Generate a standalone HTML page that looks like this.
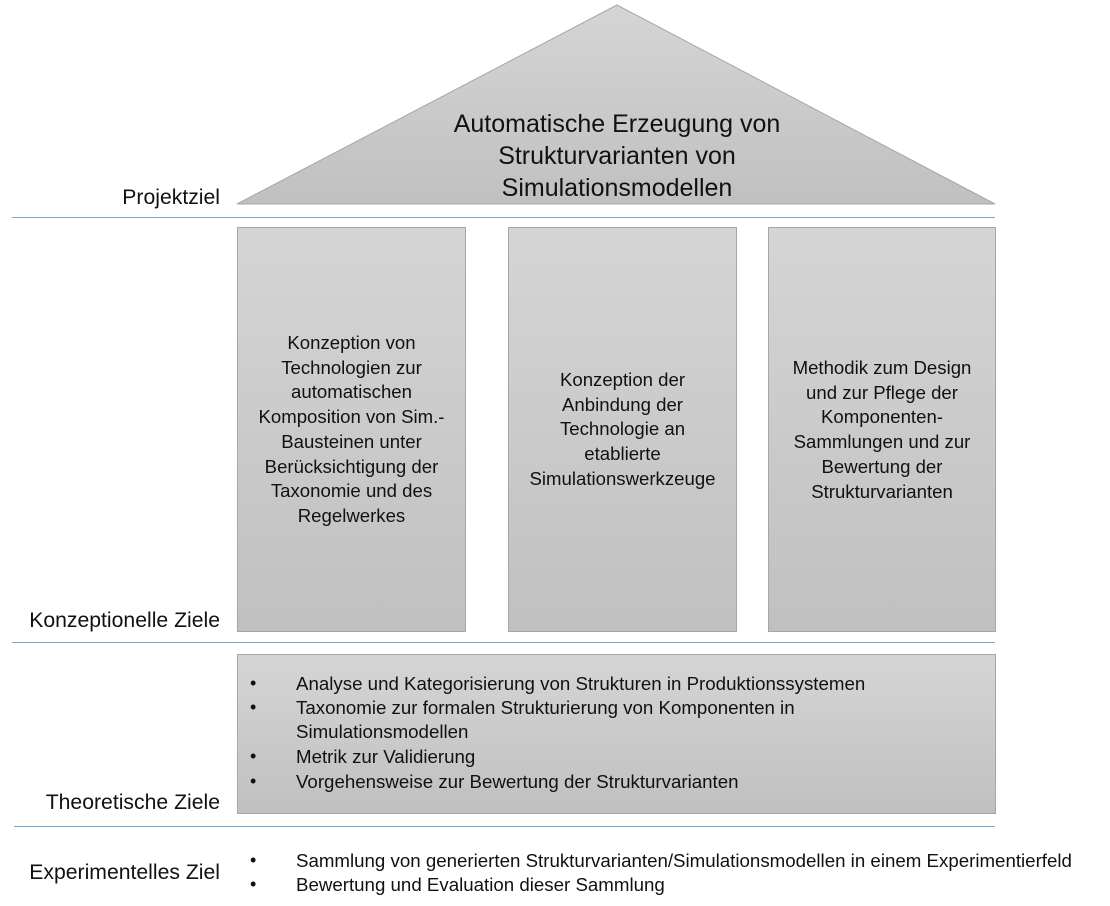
<!DOCTYPE html>
<html><head><meta charset="utf-8"><style>
body{margin:0;width:1110px;height:906px;background:#fff;position:relative;overflow:hidden;font-family:"Liberation Sans",sans-serif;color:#111}
.a{position:absolute}
.box{position:absolute;background:linear-gradient(#d5d5d5,#c0c0c0);border:1px solid #a6a6a6;box-sizing:border-box}
.line{position:absolute;height:1px;background:#6fa8dc}
.ct{position:absolute;text-align:center;font-size:18.6px;line-height:24.7px;width:100%;left:0;white-space:nowrap}
.lab{position:absolute;font-size:21.2px;right:890px;white-space:nowrap;text-align:right}
.li{position:absolute;font-size:18.7px;white-space:nowrap}
.bu{position:absolute;font-size:18px}
</style></head><body>
<svg class="a" style="left:0;top:0" width="1110" height="215">
<defs><linearGradient id="g" x1="0" y1="0" x2="0" y2="1"><stop offset="0" stop-color="#d5d5d5"/><stop offset="1" stop-color="#c0c0c0"/></linearGradient></defs>
<polygon points="617,5 995,204 237,204" fill="url(#g)" stroke="#a6a6a6" stroke-width="1"/>
</svg>
<div class="a" style="left:367px;top:108px;width:500px;text-align:center;font-size:25px;line-height:32px">Automatische Erzeugung von<br>Strukturvarianten von<br>Simulationsmodellen</div>
<div class="lab" style="top:186px">Projektziel</div>
<div class="line" style="left:12px;width:983px;top:217px"></div>

<div class="box" style="left:237px;top:227px;width:229px;height:405px"><div class="ct" style="top:103px">Konzeption von<br>Technologien zur<br>automatischen<br>Komposition von Sim.-<br>Bausteinen unter<br>Berücksichtigung der<br>Taxonomie und des<br>Regelwerkes</div></div>
<div class="box" style="left:508px;top:227px;width:229px;height:405px"><div class="ct" style="top:140px">Konzeption der<br>Anbindung der<br>Technologie an<br>etablierte<br>Simulationswerkzeuge</div></div>
<div class="box" style="left:768px;top:227px;width:228px;height:405px"><div class="ct" style="top:128px">Methodik zum Design<br>und zur Pflege der<br>Komponenten-<br>Sammlungen und zur<br>Bewertung der<br>Strukturvarianten</div></div>
<div class="lab" style="top:609px">Konzeptionelle Ziele</div>
<div class="line" style="left:12px;width:983px;top:642px"></div>

<div class="box" style="left:237px;top:654px;width:759px;height:160px"></div>
<div class="bu" style="left:250px;top:673px">•</div>
<div class="li" style="left:296px;top:673px">Analyse und Kategorisierung von Strukturen in Produktionssystemen</div>
<div class="bu" style="left:250px;top:697px">•</div>
<div class="li" style="left:296px;top:697px">Taxonomie zur formalen Strukturierung von Komponenten in</div>
<div class="li" style="left:296px;top:721px">Simulationsmodellen</div>
<div class="bu" style="left:250px;top:746px">•</div>
<div class="li" style="left:296px;top:746px">Metrik zur Validierung</div>
<div class="bu" style="left:250px;top:771px">•</div>
<div class="li" style="left:296px;top:771px">Vorgehensweise zur Bewertung der Strukturvarianten</div>
<div class="lab" style="top:791px">Theoretische Ziele</div>
<div class="line" style="left:14px;width:981px;top:826px"></div>

<div class="lab" style="top:861px">Experimentelles Ziel</div>
<div class="bu" style="left:250px;top:850px">•</div>
<div class="li" style="left:296px;top:850px">Sammlung von generierten Strukturvarianten/Simulationsmodellen in einem Experimentierfeld</div>
<div class="bu" style="left:250px;top:874px">•</div>
<div class="li" style="left:296px;top:874px">Bewertung und Evaluation dieser Sammlung</div>
</body></html>
